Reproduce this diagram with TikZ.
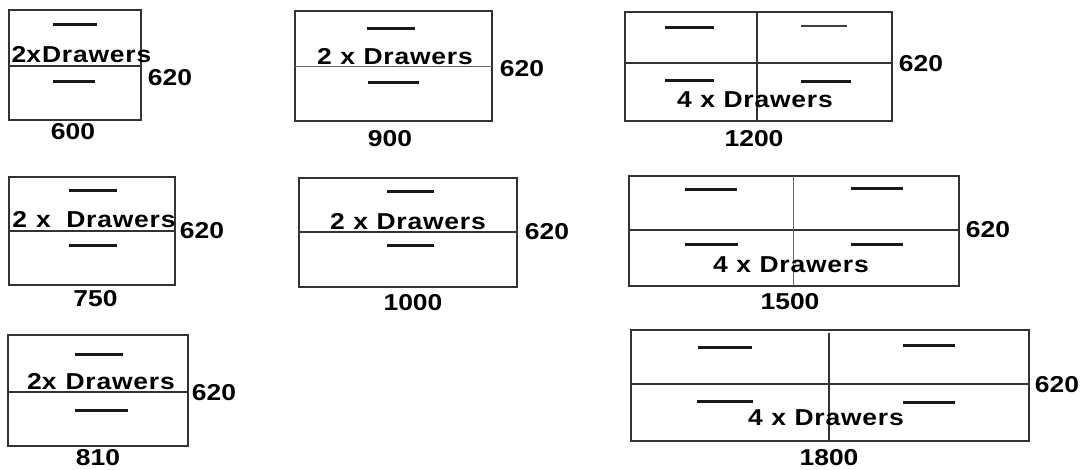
\documentclass[tikz,border=0pt]{standalone}
\usepackage{fontspec}
\setmainfont[FakeStretch=1.15]{Liberation Sans}
\newcommand{\dw}{{\addfontfeature{LetterSpace=3.5}Drawers}}
\newcommand{\nx}[1]{#1\hspace{8.5pt}x\hspace{8.5pt}\dw}
\tikzset{
 cab/.style={draw=black!80,line width=1.3pt,fill=white},
 handle/.style={line width=2.8pt,black!90},
 thinhandle/.style={line width=1.5pt,black!75},
 divider/.style={line width=1.3pt,black!80},
 thindiv/.style={line width=1pt,black!60},
 lab/.style={font=\bfseries\fontsize{23}{25}\selectfont,inner sep=0pt,black},
}
\begin{document}
\begin{tikzpicture}[x=1pt,y=-1pt]
\useasboundingbox (0,0) rectangle (1084,469);
\fill[white] (0,0) rectangle (1084,469);
\newcommand{\cabinet}[4]{\draw[cab] (#1,#2) rectangle (#3,#4);}
\newcommand{\hndl}[3]{\draw[handle] (#1,#3) -- (#2,#3);}
\newcommand{\lbl}[4]{\node[lab] (#1) at (#2,#3) {#4};}
% 600
\cabinet{9}{10}{141}{120}
\draw[divider] (9,66)--(141,66);
\hndl{53}{97}{24.5}\hndl{53}{95}{81.5}
\lbl{a1}{81.5}{55}{2x\hspace{1pt}\dw}\lbl{a2}{170}{78}{620}\lbl{a3}{73}{132}{600}
% 900
\cabinet{295}{11}{492}{121}
\draw[thindiv] (295,66.5)--(492,66.5);
\hndl{367}{415}{28.5}\hndl{368}{419}{82.5}
\lbl{b1}{395}{57}{\nx{2}}\lbl{b2}{522}{68.5}{620}\lbl{b3}{390}{138.5}{900}
% 1200
\cabinet{625}{12}{892}{121}
\draw[divider] (625,63)--(892,63);\draw[divider] (757,12)--(757,121);
\hndl{665}{714}{27.5}\draw[thinhandle] (801,26)--(847,26);\hndl{665}{714}{80.5}\hndl{801}{851}{81.5}
\lbl{c1}{755}{100}{\nx{4}}\lbl{c2}{921}{64}{620}\lbl{c3}{754}{139}{1200}
% 750
\cabinet{9}{177}{175}{285}
\draw[divider] (9,231)--(175,231);
\hndl{69}{117}{190.5}\hndl{69}{117}{245.5}
\lbl{d1}{94}{220}{2\hspace{9pt}x\hspace{15.5pt}\dw}\lbl{d2}{202}{231}{620}\lbl{d3}{95.5}{299}{750}
% 1000
\cabinet{299}{178}{517}{287}
\draw[divider] (299,232)--(517,232);
\hndl{387}{434}{191.5}\hndl{387}{434}{245.5}
\lbl{e1}{408}{222}{\nx{2}}\lbl{e2}{547}{232}{620}\lbl{e3}{413}{303}{1000}
% 1500
\cabinet{629}{176}{959}{286}
\draw[divider] (629,230)--(959,230);\draw[thindiv] (793,176)--(793,286);
\hndl{685}{737}{189.5}\hndl{851}{903}{188.5}\hndl{685}{738}{244.5}\hndl{851}{903}{244.5}
\lbl{f1}{791}{265}{\nx{4}}\lbl{f2}{988}{230}{620}\lbl{f3}{790}{302}{1500}
% 810
\cabinet{8}{335}{188}{446}
\draw[divider] (8,392)--(188,392);
\hndl{75}{123}{354.5}\hndl{75}{128}{410.5}
\lbl{g1}{101}{382}{2x\hspace{9pt}\dw}\lbl{g2}{214}{392.5}{620}\lbl{g3}{98}{457.5}{810}
% 1800
\cabinet{631}{330}{1029}{441}
\draw[divider] (631,384)--(1029,384);\draw[divider] (829,333)--(829,441);
\hndl{698}{752}{347.5}\hndl{903}{955}{345.5}\hndl{697}{753}{401.5}\hndl{903}{955}{402.5}
\lbl{h1}{826}{418}{\nx{4}}\lbl{h2}{1057}{385}{620}\lbl{h3}{829}{458}{1800}
\end{tikzpicture}
\end{document}
